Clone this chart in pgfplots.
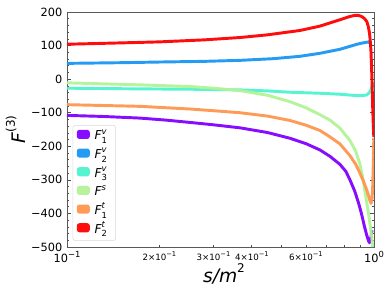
\documentclass[border=0pt]{standalone}
\usepackage{fontspec}
\setmainfont{DejaVu Sans}
\usepackage{pgfplots}
\pgfplotsset{compat=1.18}
\definecolor{cA}{HTML}{8000FF}
\definecolor{cB}{HTML}{1996F3}
\definecolor{cC}{HTML}{4DF3CE}
\definecolor{cD}{HTML}{B2F396}
\definecolor{cE}{HTML}{FF964F}
\definecolor{cF}{HTML}{FF0000}
\newcommand{\sm}{\fontsize{6.3}{6.3}\selectfont}
\newcommand{\Fl}[2]{\raisebox{0pt}[7pt][2pt]{\textit{F}\makebox[0pt][l]{\raisebox{0.85ex}{\sm\textit{#2}}}\raisebox{-0.55ex}{\sm #1}}}
\newcommand{\mt}[1]{#1\raisebox{0.75ex}{\fontsize{5}{5}\selectfont −1}}
\begin{document}
\begin{tikzpicture}
\begin{axis}[
  scale only axis, width=230.25pt, height=176.25pt,
  xmode=log, xmin=0.1, xmax=1, ymin=-500, ymax=200,
  axis line style={black!65},
  xtick={0.1,1},
  xticklabels={10\raisebox{0.8ex}{\sm −1}, 10\raisebox{0.8ex}{\sm 0}},
  minor xtick={0.2,0.3,0.4,0.5,0.6,0.7,0.8,0.9},
  extra x ticks={0.2,0.3,0.4,0.6},
  extra x tick labels={\mt{2×10}, \mt{3×10}, \mt{4×10}, \mt{6×10}},
  extra x tick style={major tick length=0pt, xticklabel style={font=\fontsize{6.5}{7}\selectfont}},
  ytick={-500,-400,-300,-200,-100,0,100,200},
  yticklabels={−500,−400,−300,−200,−100,0,100,200},
  minor y tick num=4,
  tick align=inside,
  xtick pos=bottom, ytick pos=both, yticklabel pos=left,
  major tick length=3pt, minor tick length=1.6pt,
  tick style={black!70, line width=0.5pt},
  tick label style={font=\fontsize{8.5}{10}\selectfont},
  xlabel={\textit{s/m}\raisebox{1.0ex}{\fontsize{9}{9}\selectfont 2}},
  ylabel={\textit{F}\raisebox{1.0ex}{\fontsize{9}{9}\selectfont (3)}},
  label style={font=\fontsize{14}{16}\selectfont},
  xlabel style={at={(axis description cs:0.5,0)}, anchor=north, inner sep=0pt, yshift=-12pt, xshift=2.6pt},
  ylabel style={at={(axis description cs:-0.168,0.5)}, anchor=center, inner sep=0pt},
  legend image code/.code={\fill[#1, draw=none] (0cm,-0.07cm) rectangle (0.344cm,0.17cm);},
  legend style={at={(0.018,0.026)}, anchor=south west, draw=black!15, rounded corners=2pt,
    fill=white, fill opacity=0.85, text opacity=1, font=\fontsize{9.2}{10}\selectfont,
    row sep=3.5pt, inner xsep=3pt, inner ysep=3pt,
    nodes={inner xsep=3.5pt, inner ysep=1pt}},
  legend cell align=left,
  every axis plot/.append style={line width=2.2pt, line join=round, opacity=0.95},
]
\addplot[cA] coordinates {
(0.1,-108) (0.13,-111) (0.173,-116) (0.21,-122) (0.252,-129) (0.3,-136) (0.366,-145) (0.45,-159) (0.532,-176) (0.6,-192) (0.667,-211) (0.719,-230) (0.775,-254) (0.81,-275) (0.835,-300) (0.865,-333) (0.89,-368) (0.91,-400) (0.93,-437) (0.947,-465) (0.96,-482) (0.967,-487) (0.975,-478) (0.985,-450)
};
\addlegendentry{\Fl{1}{v}}
\addplot[cB] coordinates {
(0.1,47) (0.15,49) (0.2,51) (0.28,53) (0.366,56) (0.47,61) (0.574,68) (0.667,77) (0.775,89) (0.83,97) (0.88,104) (0.92,108) (0.947,110) (0.962,111) (0.97,108) (0.978,100)
};
\addlegendentry{\Fl{2}{v}}
\addplot[cC] coordinates {
(0.1,-27) (0.173,-29) (0.25,-30) (0.366,-32) (0.45,-35) (0.532,-39) (0.667,-42) (0.775,-45) (0.878,-49) (0.92,-49) (0.947,-47) (0.962,-42) (0.970,-37) (0.978,-30) (0.985,-22) (0.99,-10)
};
\addlegendentry{\Fl{3}{v}}
\addplot[cD] coordinates {
(0.1,-11) (0.173,-17) (0.252,-22) (0.3,-27) (0.366,-34) (0.45,-48) (0.532,-67) (0.6,-85) (0.667,-106) (0.719,-122) (0.775,-146) (0.835,-183) (0.87,-213) (0.898,-250) (0.915,-285) (0.931,-325) (0.948,-370) (0.963,-409) (0.975,-445) (0.983,-469) (0.99,-500)
};
\addlegendentry{\raisebox{0pt}[7pt][2pt]{\textit{F}\raisebox{0.85ex}{\sm\textit{s}}}}
\addplot[cE] coordinates {
(0.1,-76) (0.173,-81) (0.252,-89) (0.3,-94) (0.366,-100) (0.45,-110) (0.532,-123) (0.6,-137) (0.667,-153) (0.719,-172) (0.775,-193) (0.835,-228) (0.87,-252) (0.898,-278) (0.925,-305) (0.947,-330) (0.962,-350) (0.970,-362) (0.978,-370) (0.985,-358) (0.99,-325) (0.995,-250) (0.9985,-175)
};
\addlegendentry{\Fl{1}{t}}
\addplot[cF] coordinates {
(0.1,104) (0.15,108) (0.2,111) (0.28,117) (0.366,124) (0.45,132) (0.574,145) (0.667,158) (0.775,177) (0.83,186) (0.866,190) (0.89,190) (0.91,187) (0.93,181) (0.947,172) (0.958,157) (0.967,137) (0.972,115) (0.977,88) (0.981,45) (0.985,-2) (0.99,-80) (0.995,-140) (0.9985,-172)
};
\addlegendentry{\Fl{2}{t}}
\end{axis}
\pgfresetboundingbox
\path[use as bounding box] (-50.25pt,-43.5pt) rectangle (243.75pt,185.25pt);
\end{tikzpicture}
\end{document}
